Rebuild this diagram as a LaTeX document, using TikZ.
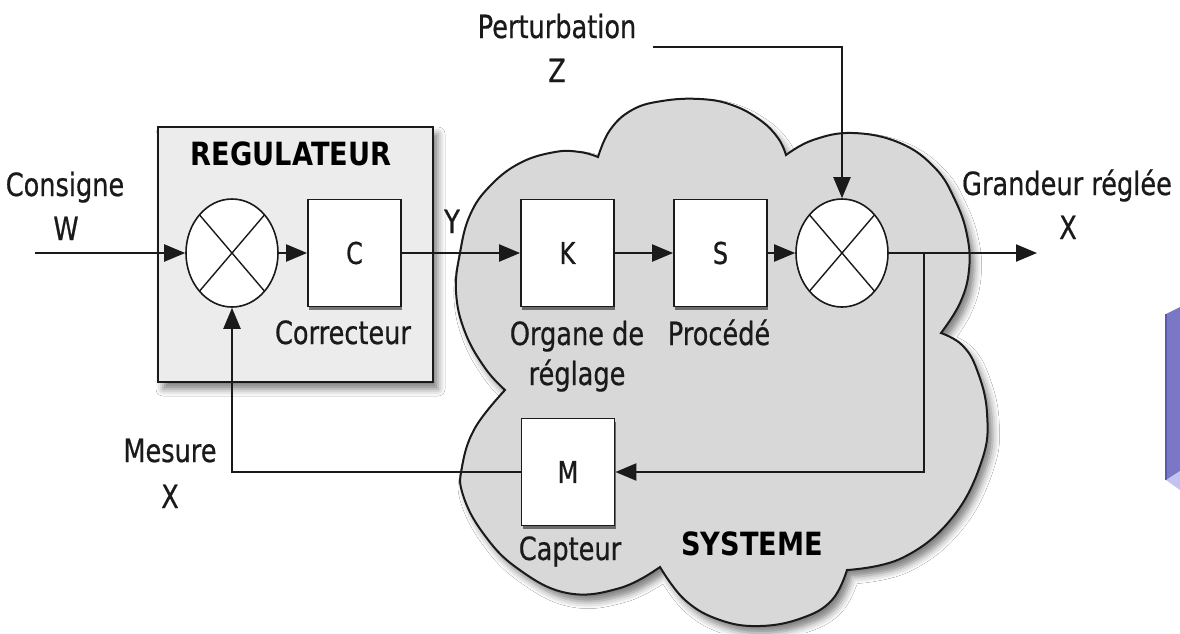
\documentclass[tikz,border=0pt]{standalone}
\usepackage{fontspec}
\setmainfont{DejaVu Sans}[FakeStretch=0.8, FakeBold=0.6]
\newfontfamily\boldfam{DejaVu Sans Bold}[FakeStretch=0.85]
\usetikzlibrary{arrows.meta,shapes.geometric,shadows,shadows.blur}
\definecolor{ink}{HTML}{1A1A1A}
\definecolor{regfill}{HTML}{ECECEC}
\definecolor{cloudfill}{HTML}{D8D8D8}
\definecolor{violetA}{HTML}{7A78C6}
\definecolor{violetB}{HTML}{C4C3F0}
\definecolor{violetC}{HTML}{5C5AAE}
\begin{document}
\begin{tikzpicture}[x=1pt,y=-1pt,
  lbl/.style={font=\fontsize{32}{36}\selectfont, text=ink, inner sep=0pt, anchor=base},
  ttl/.style={lbl, font=\fontsize{32}{36}\boldfam, text=black},
  blk/.style={draw=ink, line width=1.8pt, fill=white, minimum width=93pt, minimum height=107pt,
    inner sep=0pt, font=\fontsize{30}{34}\selectfont, text=ink,
    drop shadow={shadow xshift=1pt, shadow yshift=-3.5pt, fill=black, opacity=.5}},
  sumj/.style={ellipse, draw=ink, line width=1.6pt, fill=white, minimum width=92pt,
    minimum height=108pt, inner sep=0pt,
    path picture={\draw[ink, line width=1.4pt]
      (path picture bounding box.north west) -- (path picture bounding box.south east)
      (path picture bounding box.north east) -- (path picture bounding box.south west);}},
  conn/.style={draw=ink, line width=2.2pt},
  arr/.style={conn, -{Triangle[length=21pt,width=17pt]}},
  regbox/.style={draw=ink, line width=2.5pt, fill=regfill, inner sep=0pt,
    blur shadow={shadow xshift=5pt, shadow yshift=-7pt, shadow blur radius=7pt, shadow opacity=50}},
  cloudsh/.style={draw=ink, line width=2pt, fill=cloudfill,
    blur shadow={shadow xshift=5pt, shadow yshift=-7pt, shadow blur radius=7pt, shadow opacity=50}}
]
\useasboundingbox (0,0) rectangle (1180,633);
\fill[white] (0,0) rectangle (1180,633);

% cloud (SYSTEME)
\path[cloudsh]
  plot[smooth, tension=0.7] coordinates {(505,390) (485,368) (465,332) (456,292) (460,253) (470,215) (490,186) (520,163) (555,152) (580,152) (598,157)}
  -- plot[smooth, tension=0.7] coordinates {(598,157) (610,130) (632,110) (662,101) (700,99) (732,105) (760,120) (778,138) (786,155)}
  -- plot[smooth, tension=0.7] coordinates {(786,155) (813,140) (853,133) (900,143) (935,168) (955,200) (967,235) (969,270) (960,303) (941,333)}
  -- plot[smooth, tension=0.7] coordinates {(941,333) (962,345) (977,370) (987,413) (982,460) (952,518) (902,558) (847,570)}
  -- plot[smooth, tension=0.7] coordinates {(847,570) (832,600) (802,618) (760,626) (720,620) (685,600) (660,567)}
  -- plot[smooth, tension=0.7] coordinates {(660,567) (620,588) (567,593) (517,568) (483,533) (463,495) (462,467) (475,428) (505,390)}
  -- cycle;

% purple fragment at right edge
\fill[violetA] (1166,314) -- (1180,307) -- (1180,482) -- (1166,480) -- cycle;
\fill[violetB] (1166,480) -- (1180,471) -- (1180,490) -- cycle;
\draw[violetC, line width=1.2pt] (1166,314) -- (1166,480);

% REGULATEUR box
\node[regbox, minimum width=275pt, minimum height=255pt] (reg) at (295.5,254.5) {};
\node[ttl] (regt) at (291,165) {REGULATEUR};

% blocks
\node[sumj] (E1) at (232,253) {};
\node[blk] (C) at (354.5,253) {C};
\node[blk] (K) at (567.5,253) {K};
\node[blk] (S) at (720.5,253) {S};
\node[sumj] (E2) at (842,253) {};
\node[blk] (M) at (568,472) {M};

% labels
\node[lbl] (cons) at (65,196) {Consigne};
\node[lbl] (w) at (66,240) {W};
\node[lbl] (pert) at (557,38) {Perturbation};
\node[lbl] (z) at (557,82) {Z};
\node[lbl] (y) at (452,233) {Y};
\node[lbl] (corr) at (343,344) {Correcteur};
\node[lbl] (org1) at (577,345) {Organe de};
\node[lbl] (org2) at (577,385) {réglage};
\node[lbl] (proc) at (719,345) {Procédé};
\node[lbl] (mes) at (170,462) {Mesure};
\node[lbl] (xm) at (170,508) {X};
\node[lbl] (capt) at (570,560) {Capteur};
\node[ttl] (sys) at (752,555) {SYSTEME};
\node[lbl] (gr) at (1067,195) {Grandeur réglée};
\node[lbl] (xg) at (1068,239) {X};

% connectors
\coordinate (in) at (35,253);
\coordinate (out) at (1037,253);
\coordinate (jn) at (924,253);
\coordinate (pz) at (653,47);
\draw[arr] (in) -- (E1.west);
\draw[arr] (E1.east) -- (C.west);
\draw[arr] (C.east) -- (K.west);
\draw[arr] (K.east) -- (S.west);
\draw[arr] (S.east) -- (E2.west);
\draw[arr] (E2.east) -- (out);
\draw[arr] (pz) -| (E2.north);
\draw[arr] (jn) |- (M.east);
\draw[arr] (M.west) -| (E1.south);
\end{tikzpicture}
\end{document}
